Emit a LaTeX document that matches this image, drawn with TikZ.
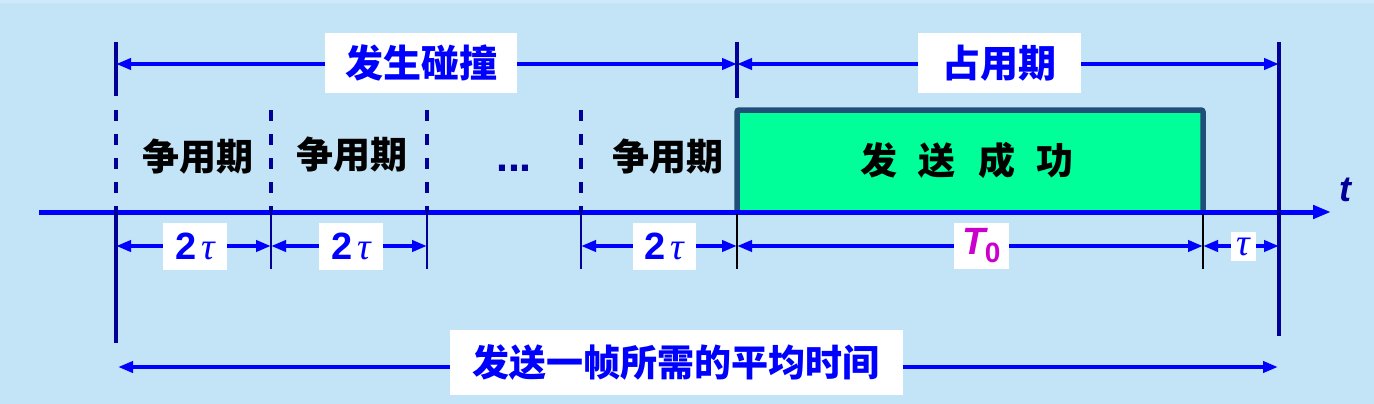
\documentclass[tikz,border=0pt]{standalone}
\usepackage{fontspec}
\setmainfont{Liberation Sans}
\newfontfamily\cjk{Noto Sans CJK SC}
\newfontfamily\serifgreek{Liberation Serif}
\usetikzlibrary{arrows.meta}
\definecolor{bg}{HTML}{C3E3F7}
\definecolor{bgtop}{HTML}{CDE9FA}
\definecolor{navy}{HTML}{000099}
\definecolor{pureblue}{HTML}{0000FF}
\definecolor{boxgreen}{HTML}{00FF99}
\definecolor{boxedge}{HTML}{1F4E79}
\definecolor{mag}{HTML}{CC00CC}
\begin{document}
\begin{tikzpicture}[x=1pt,y=-1pt,
  tickline/.style={navy,line width=3.5pt},
  dashtick/.style={navy,line width=3.5pt,dash pattern=on 11pt off 13pt},
  thinline/.style={navy,line width=2pt},
  thinblack/.style={black,line width=2pt},
  dimarrow/.style={pureblue,line width=4.5pt,{Triangle[length=15pt,width=11pt]}-{Triangle[length=15pt,width=11pt]}},
  whitelab/.style={fill=white,inner sep=0pt,text=pureblue},
  cjkbig/.style={font=\cjk\bfseries\fontsize{38}{40}\selectfont},
  cjkmid/.style={font=\cjk\bfseries\fontsize{37}{40}\selectfont,text=black},
  twotau/.style={whitelab,minimum width=63.5pt,minimum height=47pt,font=\fontsize{38}{40}\selectfont}
]
\fill[bg] (0,0) rectangle (1374,404);
\fill[bgtop] (0,0) rectangle (1374,3);
\useasboundingbox (0,0) rectangle (1374,404);

% coordinates
\coordinate (tA) at (116,64);
\coordinate (tE) at (737,64);
\coordinate (tG) at (1279,64);
\coordinate (mA) at (116,246);
\coordinate (mB) at (271,246);
\coordinate (mC) at (427,246);
\coordinate (mD) at (581,246);
\coordinate (mE) at (737,246);
\coordinate (mF) at (1203,246);
\coordinate (mG) at (1279,246);
\coordinate (bA) at (118,367);
\coordinate (bG) at (1278,367);
\coordinate (axL) at (39,212);
\coordinate (axR) at (1331,212);

% green box
\draw[boxedge,line width=5.5pt,fill=boxgreen,rounded corners=2pt] (737,212) -- (737,110) -- (1203,110) -- (1203,212);
\node[cjkmid] (succ) at (967,160) {发\hskip22pt送\hskip22pt成\hskip22pt功};

% time axis
\draw[pureblue,line width=5pt,-{Triangle[length=18pt,width=13pt]}] (axL) -- (axR);
\node[font=\bfseries\itshape\fontsize{36}{36}\selectfont,text=navy] (tlab) at (1345,190) {t};

% vertical lines
\draw[tickline] (116,42) -- (116,96);
\draw[dashtick] (116,110) -- (116,212);
\draw[tickline] (116,210) -- (116,343);
\foreach \x in {271,427,581}{
  \draw[dashtick] (\x,110) -- (\x,212);
  \draw[thinline] (\x,212) -- (\x,269);
}
\draw[tickline] (737,42) -- (737,98);
\draw[thinblack] (737,214) -- (737,269);
\draw[thinblack] (1203,214) -- (1203,269);
\draw[tickline] (1279,42) -- (1279,336);

% period labels
\node[cjkmid] (p1) at (198,157) {争用期};
\node[cjkmid] (p2) at (352,155) {争用期};
\node[font=\bfseries\fontsize{43}{43}\selectfont,text=navy,inner sep=0pt] (dots) at (514,168.5) {...};
\node[cjkmid] (p3) at (668,157) {争用期};

% dimension arrows
\draw[dimarrow] (tA) -- (tE);
\draw[dimarrow] (tE) -- (tG);
\draw[dimarrow] (mA) -- (mB);
\draw[dimarrow] (mB) -- (mC);
\draw[dimarrow] (mD) -- (mE);
\draw[dimarrow] (mE) -- (mF);
\draw[dimarrow] (mF) -- (mG);
\draw[dimarrow] (bA) -- (bG);

% labels
\node[whitelab,cjkbig,minimum width=192pt,minimum height=60pt] (coll) at (421,63) {发生碰撞};
\node[whitelab,cjkbig,minimum width=163pt,minimum height=60pt] (occ) at (999.5,63) {占用期};
\node[twotau] (d1) at (195,246.5) {\bfseries 2\hskip5pt{\serifgreek\itshape\mdseries τ}};
\node[twotau] (d2) at (351,246.5) {\bfseries 2\hskip5pt{\serifgreek\itshape\mdseries τ}};
\node[twotau] (d3) at (664.5,246.5) {\bfseries 2\hskip5pt{\serifgreek\itshape\mdseries τ}};
\node[whitelab,minimum width=55pt,minimum height=46pt,text=mag] (t0) at (981.5,246) {\fontsize{38}{40}\selectfont\bfseries\itshape T\kern-1pt\raisebox{-8pt}{\fontsize{28}{28}\selectfont\upshape 0}};
\node[whitelab,minimum width=25pt,minimum height=29pt,font=\serifgreek\itshape\fontsize{38}{40}\selectfont] (tau) at (1243.5,246.5) {τ};
\node[whitelab,font=\cjk\bfseries\fontsize{37}{40}\selectfont,minimum width=453pt,minimum height=65pt] (avg) at (676,362.5) {发送一帧所需的平均时间};
\end{tikzpicture}
\end{document}
